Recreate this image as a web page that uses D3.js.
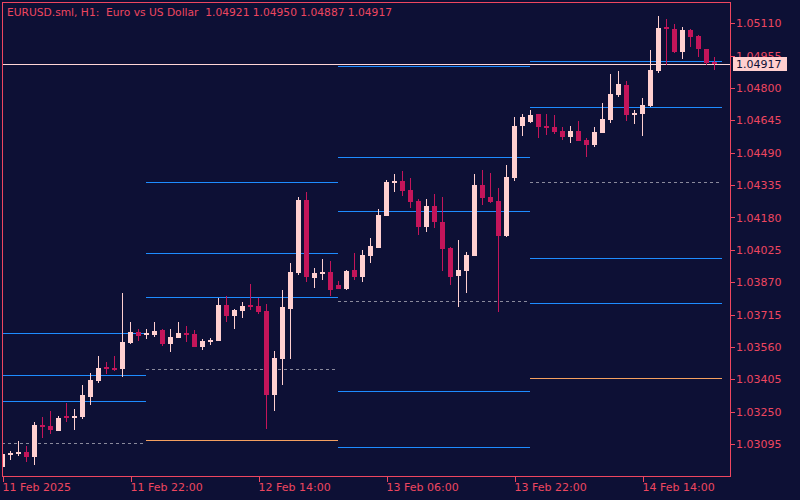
<!DOCTYPE html>
<html><head><meta charset="utf-8">
<script src="https://cdn.jsdelivr.net/npm/d3@7"></script>
<style>html,body{margin:0;padding:0;background:#0d1035;}svg{display:block;}</style>
</head><body>
<svg id="chart" width="800" height="500"></svg>
<script>
// ---- data ----
const titleText = "EURUSD.sml, H1:  Euro vs US Dollar  1.04921 1.04950 1.04887 1.04917";
const lastPrice = 1.04917;
const xTickIndex = [0, 16, 32, 48, 64, 80];
const xTickLabels = ["11 Feb 2025", "11 Feb 22:00", "12 Feb 14:00", "13 Feb 06:00", "13 Feb 22:00", "14 Feb 14:00"];
const yTicks = [1.05110, 1.04955, 1.04800, 1.04645, 1.04490, 1.04335, 1.04180, 1.04025, 1.03870, 1.03715, 1.03560, 1.03405, 1.03250, 1.03095];

const opens = [1.02985,1.03044,1.03047,1.03057,1.03034,1.03186,1.03181,1.03157,1.03226,1.03219,
1.03226,1.03321,1.03398,1.03459,1.03458,1.03454,1.03579,1.03631,1.03622,1.03617,
1.03641,1.03574,1.03603,1.03624,1.03622,1.03560,1.03583,1.03588,1.03761,1.03708,
1.03732,1.03761,1.03756,1.03732,1.03330,1.03502,1.03742,1.03914,1.04264,1.03890,
1.03909,1.03919,1.03856,1.03837,1.03928,1.03895,1.03995,1.04034,1.04187,1.04345,
1.04355,1.04312,1.04259,1.04134,1.04235,1.04158,1.04034,1.03900,1.03924,1.03995,
1.04335,1.04278,1.04259,1.04091,1.04369,1.04618,1.04637,1.04676,1.04618,1.04613,
1.04594,1.04565,1.04594,1.04551,1.04527,1.04585,1.04647,1.04767,1.04814,1.04671,
1.04676,1.04714,1.04882,1.05092,1.05083,1.04973,1.05078,1.05049,1.04987,1.04921];
const highs = [1.03057,1.03061,1.03109,1.03085,1.03200,1.03224,1.03253,1.03228,1.03291,1.03263,
1.03377,1.03435,1.03516,1.03488,1.03516,1.03818,1.03679,1.03646,1.03646,1.03679,
1.03646,1.03646,1.03679,1.03660,1.03641,1.03598,1.03603,1.03794,1.03804,1.03742,
1.03775,1.03861,1.03794,1.03765,1.03540,1.03833,1.03962,1.04278,1.04302,1.03938,
1.03981,1.03971,1.03876,1.03928,1.04010,1.04024,1.04082,1.04221,1.04359,1.04388,
1.04403,1.04369,1.04268,1.04268,1.04292,1.04278,1.04039,1.04072,1.04015,1.04388,
1.04407,1.04393,1.04321,1.04431,1.04661,1.04676,1.04695,1.04676,1.04676,1.04671,
1.04613,1.04618,1.04642,1.04561,1.04613,1.04728,1.04867,1.04882,1.04834,1.04695,
1.04752,1.04982,1.05145,1.05131,1.05107,1.05092,1.05083,1.05054,1.04987,1.04950];
const lows = [1.02980,1.03018,1.03039,1.03010,1.02994,1.03125,1.03144,1.03157,1.03202,1.03162,
1.03216,1.03283,1.03388,1.03430,1.03446,1.03417,1.03574,1.03588,1.03598,1.03607,
1.03564,1.03536,1.03603,1.03583,1.03560,1.03545,1.03569,1.03588,1.03679,1.03646,
1.03698,1.03737,1.03718,1.03167,1.03253,1.03377,1.03502,1.03904,1.03871,1.03842,
1.03880,1.03804,1.03837,1.03833,1.03880,1.03871,1.03962,1.04034,1.04187,1.04302,
1.04283,1.04225,1.04096,1.04110,1.04130,1.03924,1.03856,1.03751,1.03818,1.03995,
1.04240,1.04249,1.03727,1.04086,1.04355,1.04570,1.04632,1.04561,1.04575,1.04580,
1.04551,1.04537,1.04546,1.04470,1.04518,1.04585,1.04632,1.04757,1.04642,1.04628,
1.04570,1.04709,1.04872,1.04910,1.04968,1.04939,1.04997,1.04949,1.04910,1.04887];
const closes = [1.03047,1.03053,1.03058,1.03033,1.03186,1.03176,1.03162,1.03221,1.03223,1.03230,
1.03330,1.03401,1.03459,1.03456,1.03455,1.03583,1.03631,1.03612,1.03624,1.03636,
1.03574,1.03607,1.03627,1.03622,1.03560,1.03588,1.03593,1.03761,1.03708,1.03737,
1.03756,1.03751,1.03727,1.03330,1.03507,1.03751,1.03919,1.04264,1.03895,1.03914,
1.03919,1.03833,1.03837,1.03924,1.03895,1.04000,1.04043,1.04192,1.04350,1.04355,
1.04307,1.04254,1.04134,1.04235,1.04158,1.04029,1.03895,1.03928,1.04000,1.04335,
1.04273,1.04254,1.04091,1.04374,1.04618,1.04661,1.04671,1.04613,1.04609,1.04589,
1.04565,1.04594,1.04546,1.04527,1.04589,1.04652,1.04771,1.04819,1.04671,1.04676,
1.04719,1.04886,1.05088,1.05083,1.04973,1.05078,1.05044,1.04987,1.04920,1.04917];

// daily pivot segments (bar index where each day starts, 24 bars per day)
const dayStart = [-6, 18, 42, 66];
const blueLevels = [
  [1.03625, 1.03424, 1.03299],
  [1.04348, 1.04008, 1.03798],
  [1.04904, 1.04470, 1.04209, 1.03349, 1.03081],
  [1.04928, 1.04708, 1.03986, 1.03770]
];
const pivotLevels = [1.03098, 1.03453, 1.03778, 1.04348];
const orangeLevels = [null, 1.03113, null, 1.03410];

// ---- drawing ----
const BG = "#0d1035", AXIS = "#ee4660", BULL = "#ffd0d0", BEAR = "#c4155a";
const svg = d3.select("#chart");
svg.append("rect").attr("width", 800).attr("height", 500).attr("fill", BG);

const x = d3.scaleLinear().domain([0, 89]).range([2.5, 714.5]);
const y = d3.scaleLinear().domain([1.03095, 1.05110]).range([444, 23.3]);

svg.append("defs").append("clipPath").attr("id", "plot")
  .append("rect").attr("x", 3).attr("y", 3).attr("width", 727).attr("height", 473);

const plot = svg.append("g").attr("clip-path", "url(#plot)");

// pivot lines
dayStart.forEach((s, d) => {
  const x0 = x(s) - 0.5, x1 = x(s + 24) - 0.5;
  blueLevels[d].forEach(v => {
    plot.append("line").attr("x1", x0).attr("x2", x1)
      .attr("y1", Math.round(y(v)) + 0.5).attr("y2", Math.round(y(v)) + 0.5)
      .attr("stroke", "#1e8cff").attr("stroke-width", 1);
  });
  plot.append("line").attr("x1", x0).attr("x2", x1)
    .attr("y1", Math.round(y(pivotLevels[d])) + 0.5).attr("y2", Math.round(y(pivotLevels[d])) + 0.5)
    .attr("stroke", "#8a8a9c").attr("stroke-width", 1).attr("stroke-dasharray", "3,3");
  if (orangeLevels[d] !== null) {
    plot.append("line").attr("x1", x0).attr("x2", x1)
      .attr("y1", Math.round(y(orangeLevels[d])) + 0.5).attr("y2", Math.round(y(orangeLevels[d])) + 0.5)
      .attr("stroke", "#f4a060").attr("stroke-width", 1);
  }
});

// current price line
plot.append("line").attr("x1", 3).attr("x2", 730)
  .attr("y1", Math.round(y(lastPrice)) + 0.5).attr("y2", Math.round(y(lastPrice)) + 0.5)
  .attr("stroke", "#ffd6d6").attr("stroke-width", 1);

// candles
const bars = d3.range(opens.length).map(i => ({i, o: opens[i], h: highs[i], l: lows[i], c: closes[i]}));
const cg = plot.append("g").attr("shape-rendering", "crispEdges");
const cand = cg.selectAll("g.c").data(bars).join("g").attr("class", "c");
cand.append("line")
  .attr("x1", d => x(d.i)).attr("x2", d => x(d.i))
  .attr("y1", d => y(d.h)).attr("y2", d => y(d.l))
  .attr("stroke", d => d.c >= d.o ? BULL : BEAR).attr("stroke-width", 1);
cand.append("rect")
  .attr("x", d => x(d.i) - 2.5).attr("width", 5)
  .attr("y", d => { const t = Math.min(y(d.o), y(d.c)); const hh = Math.abs(y(d.o) - y(d.c)); return hh < 2 ? (y(d.o) + y(d.c)) / 2 - 1 : t; })
  .attr("height", d => Math.max(2, Math.abs(y(d.o) - y(d.c))))
  .attr("fill", d => d.c >= d.o ? BULL : BEAR);

// axes
const fontFam = "'DejaVu Sans', sans-serif";
const yAxis = d3.axisRight(y).tickValues(yTicks).tickSize(4).tickPadding(1.5).tickFormat(d3.format(".5f"));
const gy = svg.append("g").attr("transform", "translate(730.5,0)").call(yAxis);
gy.select(".domain").remove();
gy.selectAll("line").attr("stroke", AXIS).attr("shape-rendering", "crispEdges");
gy.selectAll("text").attr("fill", AXIS).attr("font-size", 11).attr("font-family", fontFam);

const xAxis = d3.axisBottom(x).tickValues(xTickIndex).tickSize(5).tickPadding(1.5)
  .tickFormat((d, i) => xTickLabels[i]);
const gx = svg.append("g").attr("transform", "translate(0,476.5)").call(xAxis);
gx.select(".domain").remove();
gx.selectAll("line").attr("stroke", AXIS).attr("shape-rendering", "crispEdges");
gx.selectAll("text").attr("fill", AXIS).attr("font-size", 11).attr("font-family", fontFam)
  .attr("text-anchor", "start").attr("x", -0.5);

// frame
svg.append("rect").attr("x", 2.5).attr("y", 2.5).attr("width", 728).attr("height", 474)
  .attr("fill", "none").attr("stroke", AXIS).attr("stroke-width", 1).attr("shape-rendering", "crispEdges");

// price label
const py = Math.round(y(lastPrice));
svg.append("rect").attr("x", 733).attr("y", py - 7).attr("width", 54).attr("height", 14).attr("fill", "#ffcfcf");
svg.append("text").attr("x", 736).attr("y", py + 4).attr("fill", BG)
  .attr("font-size", 11).attr("font-family", fontFam).text(d3.format(".5f")(lastPrice));

// title
svg.append("text").attr("x", 7).attr("y", 16).attr("fill", AXIS)
  .attr("font-size", 11).attr("font-family", fontFam).style("white-space", "pre")
  .attr("textLength", 385).attr("lengthAdjust", "spacingAndGlyphs").text(titleText);
</script>
</body></html>
